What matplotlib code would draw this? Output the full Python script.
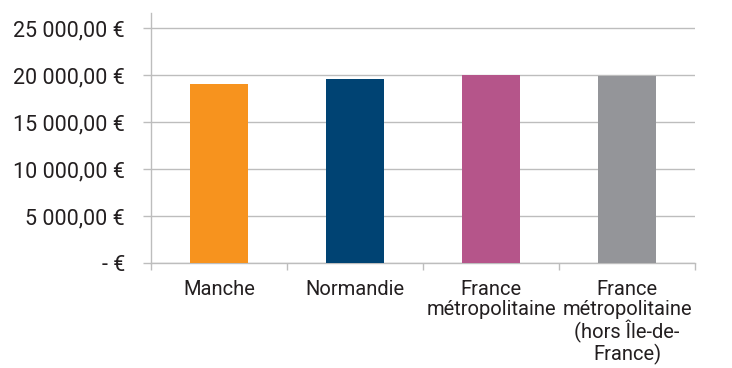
import matplotlib.pyplot as plt
from matplotlib.ticker import FuncFormatter, FixedLocator

plt.rcParams['font.family'] = ['Roboto', 'DejaVu Sans']

categories = ['Manche', 'Normandie', 'France\nmétropolitaine',
              'France\nmétropolitaine\n(hors Île-de-\nFrance)']
values = [19040, 19570, 20000, 19930]
colors = ['#F7931E', '#004373', '#B5558A', '#949599']
yticks = [0, 5000, 10000, 15000, 20000, 25000]


def euro(v, _pos):
    if v == 0:
        return '- €'
    s = f'{v:,.2f}'.replace(',', ' ').replace('.', ',')
    return s + ' €'


fig = plt.figure(figsize=(7.32, 3.68), dpi=100)
ax = fig.add_axes([151 / 732, 1 - 263 / 368, 544 / 732, 250 / 368])

x = range(len(categories))
ax.bar(x, values, width=0.43, color=colors, zorder=3)

ax.set_xlim(-0.5, len(categories) - 0.5)
ax.set_ylim(0, 26600)
ax.set_yticks(yticks)
ax.yaxis.set_major_formatter(FuncFormatter(euro))
ax.grid(axis='y', color='#BDBDBD', linewidth=1.0, zorder=0)

# category labels centred under bars, tick marks on boundaries
ax.set_xticks(list(x))
ax.set_xticklabels(categories, fontsize=14.5, color='#231F20', linespacing=1.04,
                   va='top')
ax.tick_params(axis='x', which='major', length=0, pad=12.5)
ax.xaxis.set_minor_locator(FixedLocator([i - 0.5 for i in range(len(categories) + 1)]))
ax.tick_params(axis='x', which='minor', length=5, width=1.0, color='#BDBDBD')
ax.tick_params(axis='y', length=5.8, width=1.0, color='#BDBDBD',
               labelsize=15.5, labelcolor='#231F20', pad=13)

for side in ['top', 'right']:
    ax.spines[side].set_visible(False)
for side in ['left', 'bottom']:
    ax.spines[side].set_color('#BDBDBD')
    ax.spines[side].set_linewidth(1.0)

fig.savefig('out.png', dpi=100, facecolor='white')
